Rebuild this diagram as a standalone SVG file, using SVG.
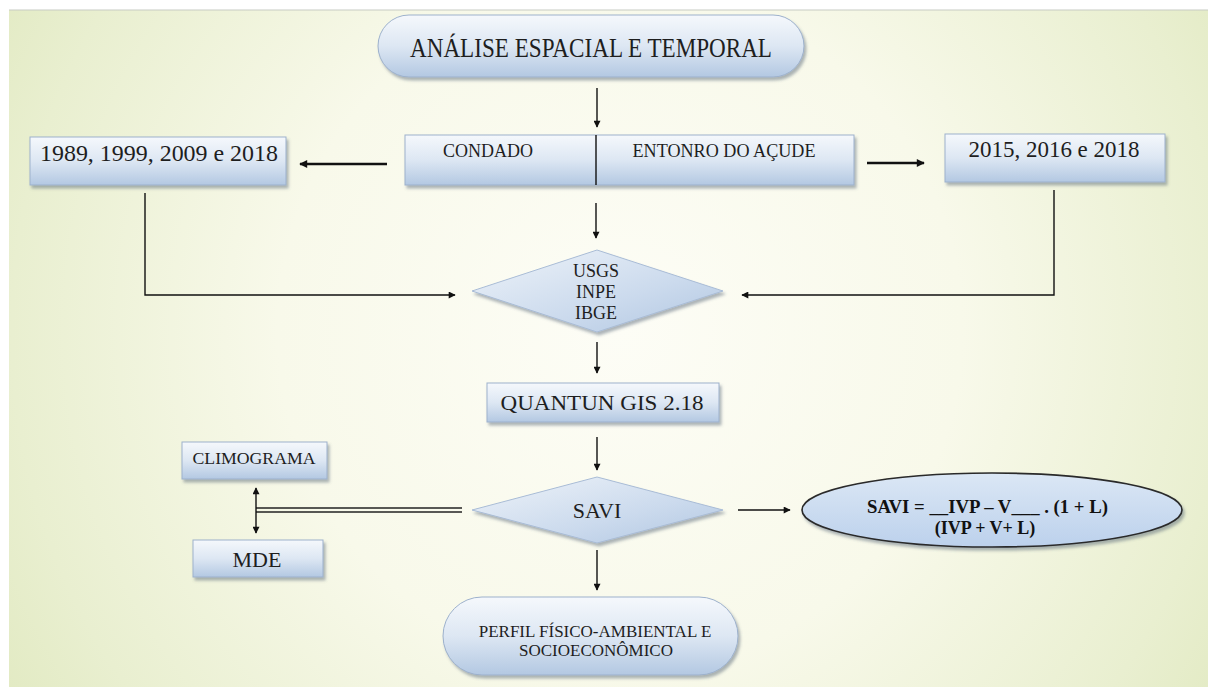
<svg xmlns="http://www.w3.org/2000/svg" width="1208" height="687" viewBox="0 0 1208 687">
<defs>
<radialGradient id="bg" cx="620" cy="330" r="760" gradientUnits="userSpaceOnUse">
<stop offset="0" stop-color="#fdfdf6"/>
<stop offset="0.45" stop-color="#f8f9ea"/>
<stop offset="0.8" stop-color="#e9efd0"/>
<stop offset="1" stop-color="#dfe8bd"/>
</radialGradient>
<linearGradient id="box" x1="0" y1="0" x2="0" y2="1">
<stop offset="0" stop-color="#f5f8fc"/>
<stop offset="0.5" stop-color="#dde7f3"/>
<stop offset="1" stop-color="#b3c8e2"/>
</linearGradient>
<linearGradient id="dia" x1="0" y1="0" x2="1" y2="1">
<stop offset="0" stop-color="#eef3f9"/>
<stop offset="0.6" stop-color="#cbdaed"/>
<stop offset="1" stop-color="#b0c6e1"/>
</linearGradient>
<linearGradient id="ell" x1="0" y1="0" x2="0" y2="1">
<stop offset="0" stop-color="#dbe7f5"/>
<stop offset="1" stop-color="#bcd1ec"/>
</linearGradient>
<filter id="sh" x="-10%" y="-20%" width="125%" height="150%">
<feDropShadow dx="2" dy="3" stdDeviation="1.5" flood-color="#4a5a70" flood-opacity="0.45"/>
</filter>
<marker id="ah" viewBox="0 0 10 10" refX="9" refY="5" markerWidth="8" markerHeight="7" markerUnits="userSpaceOnUse" orient="auto-start-reverse">
<path d="M0,0 L10,5 L0,10 z" fill="#111"/>
</marker>
<marker id="ahb" viewBox="0 0 10 10" refX="9" refY="5" markerWidth="9" markerHeight="8" markerUnits="userSpaceOnUse" orient="auto-start-reverse">
<path d="M0,0 L10,5 L0,10 z" fill="#111"/>
</marker>
</defs>
<style>
.nd{fill:url(#box);stroke:#9db1cc;stroke-width:1;filter:url(#sh)}
.dm{fill:url(#dia);stroke:#a9bcd6;stroke-width:1;filter:url(#sh)}
.t{font-family:"Liberation Serif","Times New Roman",serif;fill:#1e1e1e;text-anchor:middle}
.c{fill:none;stroke:#111;stroke-width:1.4}
.ct{fill:none;stroke:#111;stroke-width:2.6}
.f{font-family:"Liberation Serif","Times New Roman",serif;fill:#111;font-weight:bold}
</style>
<rect x="0" y="0" width="1208" height="687" fill="#ffffff"/>
<rect x="9" y="10" width="1199" height="677" fill="url(#bg)"/>
<line x1="9" y1="10" x2="1208" y2="10" stroke="#c8ccc4" stroke-width="1.2"/>

<g id="connectors">
<line class="c" x1="597" y1="88" x2="597" y2="127" marker-end="url(#ah)"/>
<line class="ct" x1="387" y1="164" x2="300" y2="164" marker-end="url(#ahb)"/>
<line class="ct" x1="867" y1="163" x2="924" y2="163" marker-end="url(#ahb)"/>
<line class="c" x1="596" y1="203" x2="596" y2="238" marker-end="url(#ah)"/>
<polyline class="c" points="145,193 145,295 455,295" marker-end="url(#ah)"/>
<polyline class="c" points="1054,190 1054,295 742,295" marker-end="url(#ah)"/>
<line class="c" x1="597" y1="342" x2="597" y2="373" marker-end="url(#ah)"/>
<line class="c" x1="597" y1="437" x2="597" y2="470" marker-end="url(#ah)"/>
<line x1="462" y1="508" x2="256" y2="508" stroke="#222" stroke-width="1.4"/>
<line x1="462" y1="512" x2="256" y2="512" stroke="#222" stroke-width="1.4"/>
<line class="c" x1="256" y1="488" x2="256" y2="533" marker-start="url(#ah)" marker-end="url(#ah)"/>
<line class="c" x1="738" y1="510" x2="790" y2="510" marker-end="url(#ah)"/>
<line class="c" x1="597" y1="550" x2="597" y2="590" marker-end="url(#ah)"/>
</g>

<g id="n-analise">
<rect class="nd" x="378" y="15" width="426" height="62" rx="31"/>
<text class="t" x="591" y="57" font-size="27" textLength="362" lengthAdjust="spacingAndGlyphs">ANÁLISE ESPACIAL E TEMPORAL</text>
</g>

<g id="n-anos1">
<rect class="nd" x="30" y="137" width="256" height="48"/>
<text class="t" x="159" y="161" font-size="23" textLength="238" lengthAdjust="spacingAndGlyphs">1989, 1999, 2009 e 2018</text>
</g>

<g id="n-area">
<rect class="nd" x="405" y="135" width="449" height="50"/>
<line x1="596" y1="135" x2="596" y2="185" stroke="#111" stroke-width="1.4"/>
<text class="t" x="488" y="157" font-size="19" textLength="90" lengthAdjust="spacingAndGlyphs">CONDADO</text>
<text class="t" x="724" y="157" font-size="19" textLength="183" lengthAdjust="spacingAndGlyphs">ENTONRO DO AÇUDE</text>
</g>

<g id="n-anos2">
<rect class="nd" x="945" y="134" width="220" height="48"/>
<text class="t" x="1054" y="157" font-size="23" textLength="171" lengthAdjust="spacingAndGlyphs">2015, 2016 e 2018</text>
</g>

<g id="n-fontes">
<polygon class="dm" points="472,291 597,250 723,291 597,332"/>
<text class="t" x="596" y="277" font-size="18">USGS</text>
<text class="t" x="596" y="298" font-size="18">INPE</text>
<text class="t" x="596" y="319" font-size="18">IBGE</text>
</g>

<g id="n-qgis">
<rect class="nd" x="487" y="383" width="232" height="39"/>
<text class="t" x="602" y="410" font-size="22" textLength="203" lengthAdjust="spacingAndGlyphs">QUANTUN GIS 2.18</text>
</g>

<g id="n-savi">
<polygon class="dm" points="472,510 597,477 723,510 597,543"/>
<text class="t" x="597" y="518" font-size="22">SAVI</text>
</g>

<g id="n-climograma">
<rect class="nd" x="182" y="442" width="145" height="37"/>
<text class="t" x="254" y="464" font-size="17" textLength="123" lengthAdjust="spacingAndGlyphs">CLIMOGRAMA</text>
</g>

<g id="n-mde">
<rect class="nd" x="193" y="540" width="130" height="37"/>
<text class="t" x="257" y="567" font-size="22">MDE</text>
</g>

<g id="n-formula">
<ellipse cx="992" cy="510" rx="190" ry="37" fill="url(#ell)" stroke="#2a2a2a" stroke-width="1.6" filter="url(#sh)"/>
<text class="f" x="867" y="513" font-size="18" textLength="241" lengthAdjust="spacingAndGlyphs">SAVI = __IVP – V___ .  (1 + L)</text>
<text class="f" x="985" y="534" font-size="18" text-anchor="middle">(IVP + V+ L)</text>
</g>

<g id="n-perfil">
<rect class="nd" x="443" y="597" width="295" height="78" rx="39"/>
<text class="t" x="595" y="637" font-size="17">PERFIL FÍSICO-AMBIENTAL E</text>
<text class="t" x="596" y="656" font-size="17">SOCIOECONÔMICO</text>
</g>
</svg>
